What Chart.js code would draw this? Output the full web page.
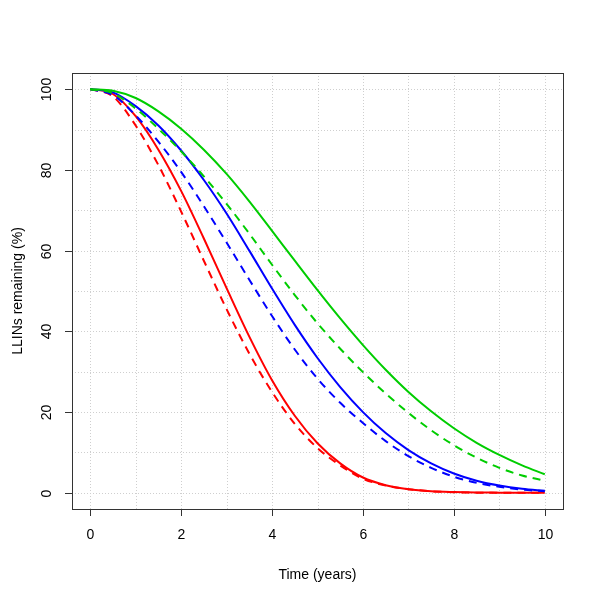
<!DOCTYPE html>
<html>
<head>
<meta charset="utf-8">
<script src="https://cdn.jsdelivr.net/npm/chart.js@4"></script>
<style>
html,body{margin:0;padding:0;background:#fff;}
canvas{display:block;}
</style>
</head>
<body>
<canvas id="c" width="600" height="600"></canvas>
<script>
const times = [0,0.5,1,1.5,2,2.5,3,3.5,4,4.5,5,5.5,6,6.5,7,7.5,8,8.5,9,9.5,10];
const greenSolid = [100,99.6,97.8,94.5,90.2,85.0,79.0,72.2,64.9,57.5,50.2,43.2,36.6,30.5,25.0,20.2,16.0,12.4,9.4,6.8,4.6];
const greenDashed = [100,99,95.2,90.2,84.6,78.4,71.6,64.2,56.5,49.0,42.0,35.7,29.9,24.6,19.8,15.5,11.8,8.7,6.2,4.3,3.0];
const blueSolid = [100,99.2,95.8,91,84.8,77.5,69.2,60,50.6,41.6,33.4,26.2,20,14.8,10.6,7.3,4.8,3.0,1.8,1.0,0.5];
const blueDashed = [100,98.5,93.5,87,79.5,71,62,52.8,43.8,35.5,28.3,22.3,17.3,12.8,9.1,6.2,4.0,2.5,1.5,0.8,0.4];
const redSolid = [100,98.8,93.3,85,74.8,63,50.7,38.7,27.9,19.1,12.3,7.3,3.8,1.9,0.9,0.4,0.2,0.1,0.05,0,0];
const redDashed = [100,98.2,91,81.2,69.7,57.5,45.5,34.5,25,17.1,11.1,6.8,3.5,1.8,0.9,0.4,0.15,0.05,0,0,0];
const xTicks = [0,2,4,6,8,10];
const yTicks = [0,20,40,60,80,100];
const xGrid = [0,1,2,3,4,5,6,7,8,9,10];
const yGrid = [0,10,20,30,40,50,60,70,80,90,100];
const xTitle = 'Time (years)';
const yTitle = 'LLINs remaining (%)';

const pts = arr => times.map((t,i)=>({x:t,y:arr[i]}));
const mk = (arr,color,dash) => ({data:pts(arr),borderColor:color,borderWidth:2,borderDash:dash,pointRadius:0,fill:false,cubicInterpolationMode:'monotone'});

const FONT = '14px "Liberation Sans", Arial, sans-serif';

const decor = {
  id:'decor',
  beforeDatasetsDraw(chart){
    const {ctx, chartArea:a, scales:{x,y}} = chart;
    ctx.save();
    ctx.strokeStyle = '#cfcfcf';
    ctx.lineWidth = 1;
    ctx.setLineDash([1,2]);
    xGrid.forEach(v=>{const px=Math.round(x.getPixelForValue(v))+0.5;ctx.beginPath();ctx.moveTo(px,a.top);ctx.lineTo(px,a.bottom);ctx.stroke();});
    yGrid.forEach(v=>{const py=Math.round(y.getPixelForValue(v))+0.5;ctx.beginPath();ctx.moveTo(a.left,py);ctx.lineTo(a.right,py);ctx.stroke();});
    ctx.restore();
  },
  afterDatasetsDraw(chart){
    const {ctx, chartArea:a, scales:{x,y}} = chart;
    ctx.save();
    ctx.setLineDash([]);
    ctx.strokeStyle = '#333';
    ctx.lineWidth = 1;
    ctx.strokeRect(Math.round(a.left)+0.5, Math.round(a.top)+0.5, Math.round(a.right-a.left), Math.round(a.bottom-a.top));
    ctx.fillStyle = '#000';
    ctx.font = FONT;
    ctx.textAlign='center';
    ctx.textBaseline='middle';
    xTicks.forEach(v=>{
      const px=Math.round(x.getPixelForValue(v))+0.5;
      ctx.beginPath();ctx.moveTo(px,a.bottom);ctx.lineTo(px,a.bottom+7);ctx.stroke();
      ctx.fillText(String(v),px,a.bottom+26);
    });
    yTicks.forEach(v=>{
      const py=Math.round(y.getPixelForValue(v))+0.5;
      ctx.beginPath();ctx.moveTo(a.left,py);ctx.lineTo(a.left-7,py);ctx.stroke();
      ctx.save();ctx.translate(a.left-25,py);ctx.rotate(-Math.PI/2);ctx.fillText(String(v),0,0);ctx.restore();
    });
    ctx.fillText(xTitle,(a.left+a.right)/2,a.bottom+66);
    ctx.save();ctx.translate(18,(a.top+a.bottom)/2);ctx.rotate(-Math.PI/2);ctx.fillText(yTitle,0,0);ctx.restore();
    ctx.restore();
  }
};

new Chart(document.getElementById('c'),{
  type:'line',
  data:{datasets:[
    mk(greenSolid,'#00CD00',[]),
    mk(greenDashed,'#00CD00',[8,6]),
    mk(blueSolid,'#0000FF',[]),
    mk(blueDashed,'#0000FF',[8,6]),
    mk(redSolid,'#FF0000',[]),
    mk(redDashed,'#FF0000',[8,6])
  ]},
  options:{
    responsive:false,
    animation:false,
    layout:{padding:{left:72,right:37,top:73,bottom:91}},
    plugins:{legend:{display:false},tooltip:{enabled:false}},
    scales:{
      x:{type:'linear',min:-0.4,max:10.4,display:false},
      y:{type:'linear',min:-4,max:104,display:false}
    }
  },
  plugins:[decor]
});
</script>
</body>
</html>
